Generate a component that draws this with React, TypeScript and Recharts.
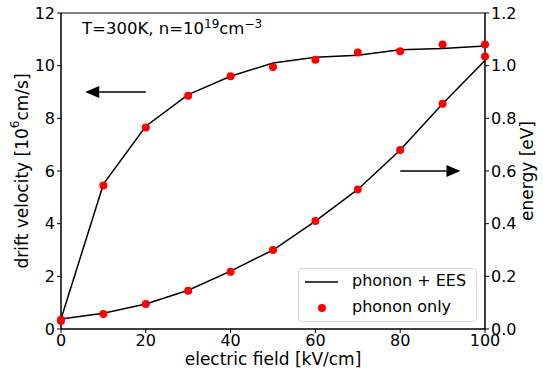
import {
  ComposedChart,
  Line,
  Scatter,
  XAxis,
  YAxis,
  ReferenceLine,
  ReferenceArea,
} from 'recharts';

const fields = [0, 10, 20, 30, 40, 50, 60, 70, 80, 90, 100];
const velocityEES = [0.38, 5.5, 7.7, 8.9, 9.6, 10.1, 10.32, 10.4, 10.6, 10.65, 10.75];
const velocityPhonon = [0.3, 5.45, 7.65, 8.86, 9.6, 9.95, 10.22, 10.5, 10.55, 10.8, 10.8];
const energyEES = [0.038, 0.06, 0.095, 0.147, 0.22, 0.3, 0.41, 0.53, 0.68, 0.855, 1.02];
const energyPhonon = [0.035, 0.057, 0.095, 0.145, 0.217, 0.3, 0.41, 0.53, 0.68, 0.855, 1.035];

const xTicks = [0, 20, 40, 60, 80, 100];
const leftTicks = [0, 2, 4, 6, 8, 10, 12];
const rightTicks = [0, 0.2, 0.4, 0.6, 0.8, 1.0, 1.2];

const FONT = 'DejaVu Sans, sans-serif';
const TICK_FS = 16;
const LABEL_FS = 17;

const data = fields.map((f, i) => ({
  field: f,
  velLine: velocityEES[i],
  velDot: velocityPhonon[i],
  enLine: energyEES[i],
  enDot: energyPhonon[i],
}));

// arrow between the segment ends, head on the left or right end
function makeArrow(pointLeft: boolean) {
  return (props: any) => {
    const { x1, y1, x2, y2 } = props;
    const tip = pointLeft ? Math.min(x1, x2) : Math.max(x1, x2);
    const tail = pointLeft ? Math.max(x1, x2) : Math.min(x1, x2);
    const y = (y1 + y2) / 2;
    const len = 14;
    const base = pointLeft ? tip + len : tip - len;
    return (
      <g>
        <line x1={tail} y1={y} x2={base} y2={y} stroke="#000" strokeWidth={1.5} />
        <polygon points={`${tip},${y} ${base},${y - 6} ${base},${y + 6}`} fill="#000" />
      </g>
    );
  };
}

function LeftLabel(props: any) {
  const { viewBox } = props;
  const cx = 22;
  const cy = viewBox.y + viewBox.height / 2;
  return (
    <text
      x={cx}
      y={cy}
      transform={`rotate(-90, ${cx}, ${cy})`}
      textAnchor="middle"
      dominantBaseline="central"
      fontSize={LABEL_FS}
      fontFamily={FONT}
      fill="#000"
    >
      drift velocity [10
      <tspan dy={-7} fontSize={12}>6</tspan>
      <tspan dy={7}>cm/s]</tspan>
    </text>
  );
}

function RightLabel(props: any) {
  const { viewBox } = props;
  const cx = 527;
  const cy = viewBox.y + viewBox.height / 2;
  return (
    <text
      x={cx}
      y={cy}
      transform={`rotate(-90, ${cx}, ${cy})`}
      textAnchor="middle"
      dominantBaseline="central"
      fontSize={LABEL_FS}
      fontFamily={FONT}
      fill="#000"
    >
      energy [eV]
    </text>
  );
}

function LegendBox() {
  return (
    <div
      style={{
        position: 'absolute',
        left: 298,
        top: 268,
        width: 179,
        height: 54,
        border: '1px solid #d8d8d8',
        borderRadius: 4,
        background: 'rgba(255,255,255,0.8)',
        fontFamily: FONT,
        fontSize: 16,
        color: '#000',
        boxSizing: 'border-box',
      }}
    >
      <svg width={60} height={52} style={{ position: 'absolute', left: 0, top: 0 }}>
        <line x1={6} y1={13} x2={39} y2={13} stroke="#000" strokeWidth={1.5} />
        <circle cx={23} cy={39} r={4} fill="#ff0000" />
      </svg>
      <div style={{ position: 'absolute', left: 53, top: 3, lineHeight: '18px' }}>phonon + EES</div>
      <div style={{ position: 'absolute', left: 53, top: 29, lineHeight: '18px' }}>phonon only</div>
    </div>
  );
}

export default function App() {
  return (
    <div style={{ position: 'absolute', left: 0, top: 0, width: 543, height: 375, background: '#fff' }}>
      <ComposedChart
        width={543}
        height={375}
        data={data}
        margin={{ top: 13, right: 8, bottom: 16, left: 11 }}
      >
        <XAxis
          dataKey="field"
          type="number"
          domain={[0, 100]}
          ticks={xTicks}
          tickSize={4}
          height={30}
          stroke="#000"
          tick={{ fontSize: TICK_FS, fill: '#000', fontFamily: FONT }}
          label={{
            value: 'electric field [kV/cm]',
            position: 'insideBottom',
            offset: -6,
            fontSize: LABEL_FS,
            fill: '#000',
            fontFamily: FONT,
          }}
        />
        <YAxis
          yAxisId="left"
          type="number"
          domain={[0, 12]}
          ticks={leftTicks}
          tickSize={4}
          width={50}
          stroke="#000"
          tick={{ fontSize: TICK_FS, fill: '#000', fontFamily: FONT }}
          label={<LeftLabel />}
        />
        <YAxis
          yAxisId="right"
          orientation="right"
          type="number"
          domain={[0, 1.2]}
          ticks={rightTicks}
          tickFormatter={(v: number) => v.toFixed(1)}
          tickSize={4}
          width={50}
          stroke="#000"
          tick={{ fontSize: TICK_FS, fill: '#000', fontFamily: FONT }}
          label={<RightLabel />}
        />
        <ReferenceArea
          yAxisId="left"
          x1={0}
          x2={100}
          y1={0}
          y2={12}
          fill="none"
          stroke="#000"
          strokeWidth={1}
          fillOpacity={0}
        />
        <Line
          yAxisId="left"
          dataKey="velLine"
          stroke="#000"
          strokeWidth={1.5}
          dot={false}
          isAnimationActive={false}
        />
        <Line
          yAxisId="right"
          dataKey="enLine"
          stroke="#000"
          strokeWidth={1.5}
          dot={false}
          isAnimationActive={false}
        />
        <Scatter
          yAxisId="left"
          dataKey="velDot"
          fill="#ff0000"
          shape={(p: any) => <circle cx={p.cx} cy={p.cy} r={4} fill="#ff0000" />}
          isAnimationActive={false}
        />
        <Scatter
          yAxisId="right"
          dataKey="enDot"
          fill="#ff0000"
          shape={(p: any) => <circle cx={p.cx} cy={p.cy} r={4} fill="#ff0000" />}
          isAnimationActive={false}
        />
        <ReferenceLine
          yAxisId="left"
          segment={[
            { x: 20, y: 9 },
            { x: 5.7, y: 9 },
          ]}
          shape={makeArrow(true)}
        />
        <ReferenceLine
          yAxisId="right"
          segment={[
            { x: 80, y: 0.6 },
            { x: 94.2, y: 0.6 },
          ]}
          shape={makeArrow(false)}
        />
      </ComposedChart>
      <LegendBox />
      <div
        style={{
          position: 'absolute',
          left: 82,
          top: 20,
          fontFamily: FONT,
          fontSize: 16.5,
          color: '#000',
          lineHeight: '18px',
          whiteSpace: 'nowrap',
        }}
      >
        T=300K, n=10<sup style={{ fontSize: 12, lineHeight: 0 }}>19</sup>cm
        <sup style={{ fontSize: 12, lineHeight: 0 }}>−3</sup>
      </div>
    </div>
  );
}
